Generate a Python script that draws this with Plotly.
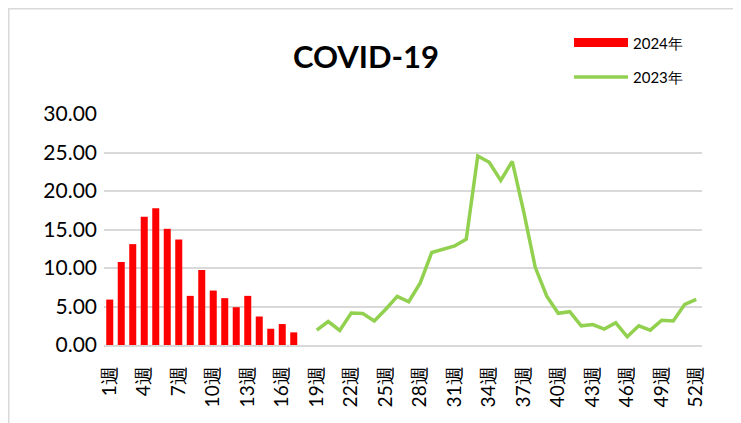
import plotly.graph_objects as go

# ---- data ----
weeks = [f"{i}週" for i in range(1, 53)]
tick_labels = weeks[::3]
weeks_2024 = weeks[:17]
values_2024 = [5.9, 10.78, 13.1, 16.64, 17.76, 15.09, 13.7, 6.38, 9.74, 7.07,
               6.08, 4.91, 6.38, 3.7, 2.11, 2.72, 1.64]
weeks_2023 = weeks[18:]
values_2023 = [1.93, 3.05, 1.89, 4.16, 4.08, 3.13, 4.64, 6.31, 5.62, 8.07,
               12.02, 12.45, 12.88, 13.73, 24.55, 23.73, 21.37, 23.86, 17.3, 10.09,
               6.35, 4.12, 4.33, 2.49, 2.66, 2.06, 2.88, 1.07, 2.49, 1.93,
               3.22, 3.13, 5.28, 5.92]
series_names = ["2024年", "2023年"]
title_text = "COVID-19"

RED = "#FF0000"
GREEN = "#92D050"
GRID = "#D9D9D9"
FONT = "Lato"

OFF = 8  # page body margin
W, H = 741 - OFF, 423 - OFF
# plot area in reference page pixels: x 104..702, y 113.7..345.3
L = 104 - OFF
R = 741 - 702
T = 114 - OFF
B = 423 - 345
PW, PH = W - L - R, H - T - B


def px(x):
    return (x - OFF - L) / PW


def py(y):
    return (H - B - (y - OFF)) / PH


fig = go.Figure()
fig.add_trace(go.Bar(x=weeks_2024, y=values_2024, name=series_names[0],
                     marker=dict(color=RED, line=dict(width=0)), showlegend=False))
fig.add_trace(go.Scatter(x=weeks_2023, y=values_2023, name=series_names[1], mode="lines",
                         line=dict(color=GREEN, width=3.5), showlegend=False))

shapes = [
    # outer chart border
    dict(type="rect", xref="paper", yref="paper", x0=px(8.75), x1=px(735), y0=py(440), y1=py(8.75),
         line=dict(color="#D9D9D9", width=1.5), fillcolor="rgba(0,0,0,0)", layer="below"),
    # legend swatches
    dict(type="rect", xref="paper", yref="paper", x0=px(574), x1=px(628), y0=py(47), y1=py(38),
         line=dict(width=0), fillcolor=RED),
    dict(type="line", xref="paper", yref="paper", x0=px(574), x1=px(628), y0=py(77), y1=py(77),
         line=dict(color=GREEN, width=3.5)),
]
annotations = [
    dict(text=series_names[0], xref="paper", yref="paper", x=px(631), y=py(43),
         xanchor="left", yanchor="middle", showarrow=False, font=dict(size=15, color="#000", family=FONT)),
    dict(text=series_names[1], xref="paper", yref="paper", x=px(631), y=py(77),
         xanchor="left", yanchor="middle", showarrow=False, font=dict(size=15, color="#000", family=FONT)),
]

fig.update_layout(
    width=W, height=H,
    margin=dict(l=L, r=R, t=T, b=B),
    paper_bgcolor="white", plot_bgcolor="white",
    title=dict(text=f"<b>{title_text}</b>", x=(366 - OFF) / W, y=1 - (57 - OFF) / H,
               xanchor="center", yanchor="middle",
               font=dict(size=31, color="#000", family=FONT)),
    bargap=0.39,
    shapes=shapes,
    annotations=annotations,
    xaxis=dict(type="category", categoryorder="array", categoryarray=weeks,
               range=[-0.5, 51.5], tickmode="array", tickvals=tick_labels, ticktext=tick_labels,
               tickangle=-90, tickfont=dict(size=19, color="#000", family=FONT),
               showgrid=False, showline=True, linecolor=GRID, linewidth=1.5, ticks="", ticklen=0,
               ticklabelstandoff=12),
    yaxis=dict(range=[0, 30], tickmode="linear", tick0=0, dtick=5, tickformat=".2f",
               tickfont=dict(size=21, color="#000", family=FONT),
               showgrid=True, gridcolor=GRID, gridwidth=1.5, zeroline=False, showline=False, ticks="",
               ticklabelstandoff=6),
)

fig.write_html("out.html")
